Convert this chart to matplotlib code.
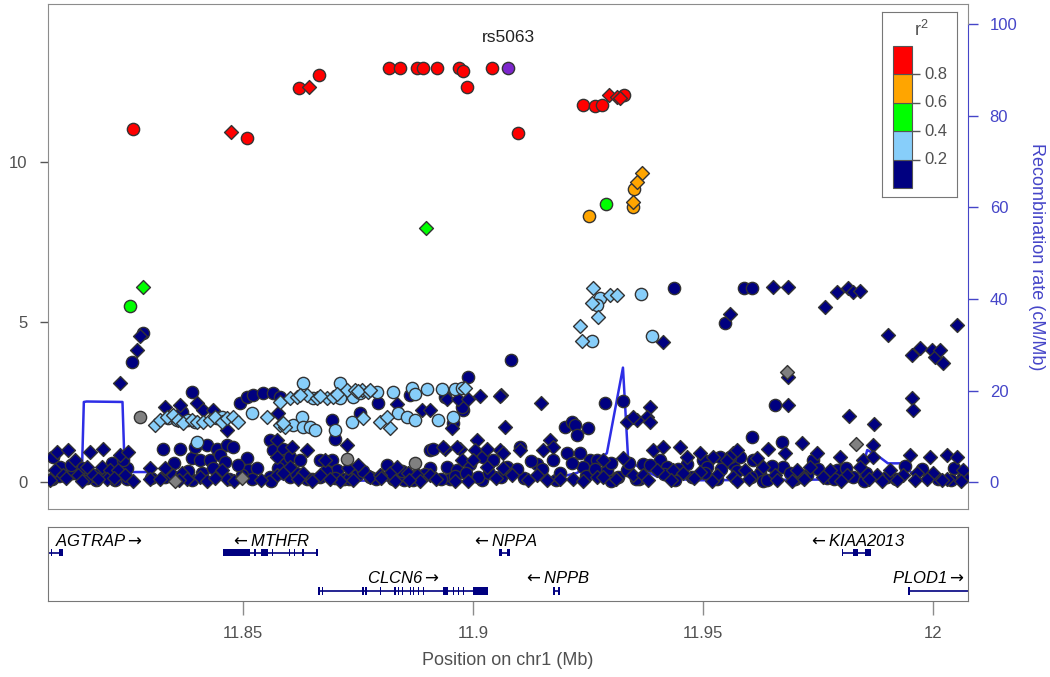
import matplotlib
matplotlib.use("Agg")
import matplotlib.pyplot as plt

plt.rcParams['font.family'] = ['Liberation Sans', 'DejaVu Sans']

# ---------------- data (positions in Mb, -log10 p) ----------------
lead_name = "rs5063"
lead_pos = [11.9076]
lead_logp = [12.94]

red_circ_pos = [11.8261, 11.8509, 11.8622, 11.8665, 11.8817, 11.8841, 11.8878, 11.8891, 11.8922,
                11.8970, 11.8978, 11.8987, 11.9041, 11.9098, 11.9239, 11.9265, 11.9280, 11.9328]
red_circ_logp = [11.03, 10.75, 12.31, 12.72, 12.94, 12.94, 12.94, 12.94, 12.94,
                 12.94, 12.85, 12.34, 12.94, 10.91, 11.78, 11.75, 11.78, 12.09]
red_diam_pos = [11.8474, 11.8644, 11.9296, 11.9313, 11.9320]
red_diam_logp = [10.94, 12.34, 12.09, 12.03, 12.00]

orange_circ_pos = [11.9350, 11.9348, 11.9252]
orange_circ_logp = [9.15, 8.60, 8.31]
orange_diam_pos = [11.9367, 11.9357, 11.9348]
orange_diam_logp = [9.66, 9.38, 8.75]

green_circ_pos = [11.9289, 11.8254]
green_circ_logp = [8.68, 5.50]
green_diam_pos = [11.8898, 11.8283]
green_diam_logp = [7.94, 6.09]

light_circ_pos = [11.9276, 11.9270, 11.9365, 11.9259, 11.9389,
                  11.8337, 11.8357, 11.8381, 11.8396, 11.8444, 11.8455, 11.8400, 11.8520,
                  11.8631, 11.8652, 11.8711, 11.8711, 11.8739, 11.8755, 11.8792, 11.8826,
                  11.8868, 11.8874, 11.8900, 11.8933, 11.8961, 11.8976,
                  11.8609, 11.8629, 11.8631, 11.8646, 11.8657, 11.8700, 11.8737, 11.8837,
                  11.8857, 11.8874, 11.8924, 11.8957]
light_circ_logp = [5.75, 5.53, 5.87, 4.41, 4.56,
                   1.99, 1.94, 1.94, 1.89, 1.99, 2.04, 1.25, 2.15,
                   3.09, 2.63, 3.09, 2.63, 2.66, 2.78, 2.81, 2.81,
                   2.94, 2.75, 2.91, 2.91, 2.91, 2.94,
                   1.78, 2.03, 1.72, 1.72, 1.63, 1.63, 1.88, 2.16,
                   2.03, 1.94, 1.94, 2.03]
light_diam_pos = [11.9261, 11.9259, 11.9272, 11.9298, 11.9313, 11.9233, 11.9237,
                  11.8309, 11.8320, 11.8335, 11.8348, 11.8359, 11.8370, 11.8389, 11.8400,
                  11.8413, 11.8429, 11.8439, 11.8455, 11.8466, 11.8479, 11.8489, 11.8552,
                  11.8581, 11.8602, 11.8618, 11.8639, 11.8661, 11.8683, 11.8696, 11.8726,
                  11.8744, 11.8759, 11.8772, 11.8983, 11.8624, 11.8668, 11.8705, 11.8750, 11.8776,
                  11.8581, 11.8592, 11.8587, 11.8761, 11.8798, 11.8820, 11.8813]
light_diam_logp = [6.06, 5.59, 5.16, 5.84, 5.84, 4.88, 4.41,
                   1.78, 1.94, 2.03, 2.09, 1.94, 1.84, 1.94, 1.88,
                   1.88, 1.94, 2.03, 1.88, 2.00, 2.03, 1.88, 2.04,
                   2.50, 2.63, 2.66, 2.72, 2.63, 2.63, 2.66, 2.88,
                   2.88, 2.88, 2.81, 2.94, 2.72, 2.69, 2.75, 2.84, 2.88,
                   1.78, 1.72, 1.84, 2.00, 1.88, 1.69, 2.03]

grey_circ_pos = [11.8276, 11.8726, 11.8874]
grey_circ_logp = [2.03, 0.72, 0.59]
grey_diam_pos = [11.9683, 11.9833, 11.8352, 11.8498]
grey_diam_logp = [3.44, 1.19, 0.02, 0.13]

navy_circ_pos = [11.9437, 11.9589, 11.9607, 11.9548, 11.9083, 11.8989, 11.8283, 11.8259, 11.8389,
                 11.9657, 11.9287, 11.9326, 11.8794, 11.8939, 11.8494, 11.8509, 11.8522, 11.8544,
                 11.8566, 11.8581, 11.8368, 11.8694, 11.8700, 11.8755, 11.8863, 11.8979, 11.8907,
                 11.8957, 11.8976, 11.9607, 11.9672,
                 11.9200, 11.9215, 11.9222, 11.9226, 11.9250,
                 11.8087, 11.8102, 11.8131, 11.8150, 11.8222, 11.8248, 11.8248, 11.8326, 11.8363,
                 11.8389, 11.8396, 11.8422, 11.8444, 11.8466, 11.8479, 11.8509, 11.8511, 11.8531,
                 11.8498, 11.8559, 11.8566, 11.8559, 11.8407, 11.8429, 11.8450,
                 11.8587, 11.8592, 11.8602, 11.8624, 11.8668, 11.8694, 11.8705, 11.8668, 11.8748,
                 11.8776, 11.8813, 11.8879, 11.8907, 11.8913, 11.8944, 11.8966, 11.8994, 11.9022,
                 11.9044, 11.9074, 11.8602,
                 11.9233, 11.9205, 11.9174, 11.9139, 11.9102, 11.9255, 11.9270, 11.9239, 11.9292,
                 11.9315, 11.9335, 11.9370, 11.9407, 11.9422, 11.9466, 11.9500, 11.9509, 11.9537,
                 11.9566,
                 11.9581, 11.9609, 11.9559, 11.9624, 11.9674, 11.9739, 11.9792, 11.9826, 11.9726,
                 11.9631,
                 11.8085, 11.8180, 11.8300, 11.8390, 11.8470, 11.8560, 11.8640, 11.8720, 11.8850,
                 11.8950, 11.9020, 11.9110, 11.9180, 11.9300, 11.9360, 11.9440, 11.9530, 11.9640,
                 11.9700, 11.9770, 11.9850, 11.9920, 12.0040,
                 11.8100, 11.8125, 11.8160, 11.8190, 11.8215, 11.8240, 11.8330, 11.8350, 11.8380,
                 11.8410, 11.8435, 11.8460, 11.8490, 11.8520, 11.8575, 11.8615, 11.8650, 11.8680,
                 11.8700, 11.8730, 11.8760, 11.8790, 11.8825, 11.8845, 11.8870, 11.8895, 11.8930,
                 11.8960, 11.8985, 11.9010, 11.9035, 11.9060, 11.9095, 11.9125, 11.9150, 11.9190,
                 11.9215, 11.9245, 11.9265, 11.9300, 11.9340, 11.9355, 11.9385, 11.9415, 11.9445,
                 11.9475, 11.9505, 11.9540, 11.9575, 11.9605, 11.9650, 11.9690, 11.9715, 11.9750,
                 11.9785, 11.9810, 11.9855, 11.9900, 11.9940, 11.9975, 12.0010, 12.0045, 12.0065]
navy_circ_logp = [6.06, 6.06, 6.06, 4.97, 3.81, 3.28, 4.66, 3.75, 2.81,
                  2.41, 2.48, 2.54, 2.47, 2.66, 2.46, 2.67, 2.72, 2.78,
                  2.78, 2.66, 2.19, 1.94, 1.36, 2.15, 2.72, 2.25, 1.00,
                  1.84, 2.34, 1.42, 1.26,
                  1.73, 1.89, 1.78, 1.47, 1.68,
                  0.79, 0.48, 0.27, 0.43, 0.06, 0.43, 0.11, 1.05, 1.05,
                  0.74, 1.10, 1.16, 1.05, 1.16, 1.10, 0.74, 0.38, 0.43,
                  0.22, 1.31, 1.00, 0.17, 0.69, 0.69, 0.84,
                  1.05, 0.69, 0.79, 0.69, 0.69, 0.69, 0.38, 0.17, 0.22,
                  0.17, 0.53, 0.22, 0.43, 1.05, 0.48, 0.38, 0.58, 0.79,
                  0.69, 0.48, 0.17,
                  0.90, 0.90, 0.69, 0.58, 1.10, 0.69, 0.69, 0.48, 0.38,
                  0.17, 0.38, 0.58, 0.69, 0.48, 0.58, 0.69, 0.48, 0.79,
                  0.58,
                  0.79, 0.69, 0.79, 0.27, 0.48, 0.69, 0.38, 0.17, 0.22,
                  0.02,
                  0.10, 0.08, 0.12, 0.06, 0.10, 0.05, 0.09, 0.11, 0.07,
                  0.10, 0.06, 0.12, 0.08, 0.05, 0.10, 0.07, 0.11, 0.06,
                  0.09, 0.12, 0.05, 0.10, 0.08,
                  0.20, 0.55, 0.12, 0.30, 0.60, 0.70, 0.15, 0.60, 0.35,
                  0.30, 0.45, 0.62, 0.55, 0.10, 0.45, 0.30, 0.10, 0.35,
                  0.12, 0.10, 0.35, 0.10, 0.10, 0.35, 0.08, 0.25, 0.10,
                  0.20, 0.30, 0.15, 0.30, 0.15, 0.40, 0.65, 0.40, 0.30,
                  0.60, 0.20, 0.40, 0.60, 0.60, 0.10, 0.55, 0.25, 0.40,
                  0.15, 0.30, 0.40, 0.35, 0.15, 0.50, 0.30, 0.15, 0.40,
                  0.10, 0.45, 0.30, 0.15, 0.50, 0.40, 0.10, 0.45, 0.15]

navy_diam_pos = [11.9652, 11.9685, 11.9559, 11.9765, 11.9792, 11.9815, 11.9826, 11.9842, 11.9902,
                 12.0052, 11.9955, 11.9972, 11.9998, 12.0004, 12.0022, 12.0015, 11.9685, 11.9685,
                 11.9817, 11.9872, 11.9954, 11.9957, 11.9148, 11.9061, 11.9016, 11.9070, 11.9413,
                 11.8276, 11.8270, 11.8233, 11.9385, 11.9379, 11.9335, 11.9357, 11.9348, 11.9385,
                 11.8835, 11.9059, 11.8331, 11.8363, 11.8400, 11.8413, 11.8435, 11.8466,
                 11.8576, 11.8726, 11.8889, 11.8907, 11.8944, 11.8968, 11.8989, 11.8955, 11.9009,
                 11.8939, 11.8972, 11.9005,
                 11.8096, 11.8120, 11.8168, 11.8196, 11.8233, 11.8250, 11.8135, 11.8161, 11.8194,
                 11.8211, 11.8229, 11.8091, 11.8109, 11.8142, 11.8174, 11.8205, 11.8244, 11.8298,
                 11.8298, 11.8331, 11.8348, 11.8368, 11.8379, 11.8407, 11.8422, 11.8455, 11.8466,
                 11.8574, 11.8574, 11.8602, 11.8607, 11.8639, 11.8574, 11.8587, 11.8631, 11.8668,
                 11.8711, 11.8729, 11.8750, 11.8776, 11.8820, 11.8835, 11.8859, 11.8879, 11.8907,
                 11.8935, 11.8966, 11.8976, 11.9000, 11.9031, 11.9066, 11.9031, 11.9059, 11.8961,
                 11.8885, 11.8798, 11.8679,
                 11.9326, 11.9283, 11.9168, 11.9174, 11.9152, 11.9102, 11.9066, 11.9085, 11.9139,
                 11.9161, 11.9218, 11.9270, 11.9283, 11.9348, 11.9392, 11.9413, 11.9450, 11.9466,
                 11.9494, 11.9522, 11.9552, 11.9566, 11.9400, 11.9370, 11.9435, 11.9457, 11.9494,
                 11.9531, 11.9566,
                 11.9870, 11.9642, 11.9716, 11.9679, 11.9748, 11.9798, 11.9848, 11.9870, 11.9950,
                 11.9994, 12.0031, 12.0052, 11.9574, 11.9618, 11.9592, 11.9631, 11.9657, 11.9705,
                 11.9733, 11.9776, 11.9813, 11.9842, 11.9879, 11.9907, 11.9935, 11.9966, 12.0000,
                 12.0031, 12.0066, 11.9574, 11.9694, 11.9761, 11.9889, 11.9922, 11.9987,
                 11.8080, 11.8115, 11.8150, 11.8185, 11.8220, 11.8260, 11.8320, 11.8360, 11.8440,
                 11.8480, 11.8540, 11.8620, 11.8650, 11.8690, 11.8740, 11.8800, 11.8830, 11.8860,
                 11.8920, 11.8990, 11.9050, 11.9120, 11.9190, 11.9240, 11.9310, 11.9380, 11.9430,
                 11.9480, 11.9520, 11.9600, 11.9660, 11.9720, 11.9800, 11.9860, 11.9960, 12.0020,
                 12.0060]
navy_diam_logp = [6.09, 6.09, 5.25, 5.47, 5.94, 6.06, 5.94, 5.97, 4.59,
                  4.91, 3.97, 4.19, 4.13, 3.91, 3.72, 4.13, 3.28, 2.41,
                  2.06, 1.81, 2.63, 2.25, 2.47, 2.72, 2.69, 1.72, 4.38,
                  4.56, 4.13, 3.09, 2.35, 2.04, 1.89, 1.94, 2.04, 1.89,
                  2.44, 2.69, 2.35, 2.41, 2.46, 2.25, 2.25, 1.63,
                  2.16, 1.16, 2.25, 2.25, 2.61, 2.61, 2.61, 1.68, 1.31,
                  1.05, 1.05, 1.00,
                  0.95, 1.00, 0.95, 1.05, 0.84, 0.95, 0.69, 0.48, 0.48,
                  0.38, 0.38, 0.38, 0.22, 0.22, 0.22, 0.11, 0.22, 0.43,
                  0.11, 0.43, 0.22, 0.27, 0.11, 0.17, 0.02, 0.38, 0.11,
                  1.31, 0.79, 0.48, 1.10, 1.00, 0.22, 0.27, 0.27, 0.22,
                  0.02, 0.43, 0.53, 0.17, 0.27, 0.48, 0.27, 0.22, 0.22,
                  1.10, 1.10, 0.69, 0.69, 0.48, 0.43, 1.05, 1.00, 0.02,
                  0.02, 0.22, 0.69,
                  0.74, 0.69, 1.31, 1.10, 1.00, 1.00, 0.90, 0.22, 0.22,
                  0.06, 0.11, 0.17, 0.17, 0.22, 1.00, 1.10, 1.10, 0.79,
                  0.90, 0.79, 0.69, 0.90, 0.38, 0.22, 0.38, 0.27, 0.32,
                  0.22, 0.17,
                  1.16, 1.02, 1.21, 0.90, 0.90, 0.79, 0.69, 0.79, 0.84,
                  0.79, 0.84, 0.79, 1.00, 0.74, 0.38, 0.48, 0.22, 0.38,
                  0.48, 0.38, 0.22, 0.48, 0.22, 0.38, 0.22, 0.27, 0.27,
                  0.11, 0.38, 0.02, 0.02, 0.17, 0.02, 0.06, 0.11,
                  0.06, 0.12, 0.05, 0.09, 0.14, 0.04, 0.10, 0.07, 0.12,
                  0.05, 0.08, 0.11, 0.04, 0.09, 0.06, 0.13, 0.05, 0.08,
                  0.10, 0.04, 0.12, 0.07, 0.09, 0.05, 0.11, 0.06, 0.08,
                  0.12, 0.05, 0.09, 0.07, 0.11, 0.04, 0.10, 0.06, 0.08,
                  0.05]

# recombination rate (cM/Mb)
recomb_pos = [11.8075, 11.8150, 11.8154, 11.8160, 11.8238, 11.8243, 11.8290, 11.8310, 11.8480,
              11.8530, 11.8560, 11.8600, 11.8700, 11.8900, 11.9040, 11.9091, 11.9107, 11.9189,
              11.9226, 11.9291, 11.9326, 11.9337, 11.9348, 11.9400, 11.9478, 11.9840, 11.9857,
              11.9878, 11.9902, 11.9928, 11.9954, 12.0009, 12.0011, 12.0075]
recomb_rate = [2.5, 2.8, 17.5, 17.6, 17.5, 2.2, 2.2, 1.2, 0.5,
               0.9, 1.0, 0.5, 0.3, 0.4, 1.5, 3.7, 1.0, 1.1,
               2.0, 6.3, 25.0, 5.5, 4.0, 1.2, 0.4, 0.6, 7.0,
               5.9, 4.1, 4.1, 2.0, 1.5, 0.0, 0.0]

# r2 legend
r2_bins = [0.0, 0.2, 0.4, 0.6, 0.8]
r2_labels = ["0.2", "0.4", "0.6", "0.8"]

# genes
gene_names = ["AGTRAP", "MTHFR", "NPPA", "KIAA2013", "CLCN6", "NPPB", "PLOD1"]
gene_start = [11.7961, 11.8457, 11.9057, 11.9802, 11.8663, 11.9174, 11.9946]
gene_end = [11.8108, 11.8662, 11.9081, 11.9866, 11.9033, 11.9189, 12.0356]
gene_strand = ["+", "-", "-", "-", "+", "-", "+"]
gene_row = [0, 0, 0, 0, 1, 1, 1]
gene_exons = [
    [(11.8082, 11.8085), (11.8099, 11.8108)],
    [(11.8457, 11.8516), (11.8525, 11.8528), (11.8540, 11.8555), (11.8562, 11.8565),
     (11.8600, 11.8603), (11.8611, 11.8614), (11.8629, 11.8632), (11.8659, 11.8662)],
    [(11.9057, 11.9063), (11.9074, 11.9081)],
    [(11.9802, 11.9805), (11.9826, 11.9837), (11.9852, 11.9866)],
    [(11.8664, 11.8667), (11.8672, 11.8675), (11.8759, 11.8762), (11.8766, 11.8769),
     (11.8797, 11.8800), (11.8829, 11.8832), (11.8836, 11.8839), (11.8845, 11.8848),
     (11.8862, 11.8865), (11.8869, 11.8872), (11.8880, 11.8883), (11.8891, 11.8894),
     (11.8934, 11.8946), (11.8956, 11.8959), (11.8967, 11.8970), (11.8978, 11.8981),
     (11.9000, 11.9033)],
    [(11.9174, 11.9179), (11.9184, 11.9189)],
    [(11.9946, 11.9949)],
]

# ---------------- styling ----------------
XMIN, XMAX = 11.8075, 12.0075
NAVY = "#000080"
RECOMB = "#2E2EE6"
AXBLUE = "#4545C8"
GREY = "#8c8c8c"
TXT = "#505050"
EDGE = "#333333"

fig = plt.figure(figsize=(10.5, 6.77), dpi=100)
ax = fig.add_axes([47.5 / 1050, 1 - 509 / 677, 920 / 1050, 505 / 677])
ax2 = ax.twinx()
ax.set_zorder(ax2.get_zorder() + 1)
ax.patch.set_visible(False)

ax.set_xlim(XMIN, XMAX)
ax.set_ylim(-0.84, 14.94)
ax2.set_ylim(-0.84 * 6.987, 14.94 * 6.987)

# recombination line
ax2.plot(recomb_pos, recomb_rate, color=RECOMB, lw=1.8, zorder=1)

CS, DS = 78, 50


def draw(pos, logp, marker, color, s):
    if pos:
        ax.scatter(pos, logp, marker=marker, s=s, c=color, edgecolors=EDGE, linewidths=1.0, zorder=3)


draw(navy_circ_pos, navy_circ_logp, "o", NAVY, CS)
draw(navy_diam_pos, navy_diam_logp, "D", NAVY, DS)
draw(grey_circ_pos, grey_circ_logp, "o", "#808080", CS)
draw(grey_diam_pos, grey_diam_logp, "D", "#808080", DS)
draw(light_circ_pos, light_circ_logp, "o", "#87CEFA", CS)
draw(light_diam_pos, light_diam_logp, "D", "#87CEFA", DS)
draw(green_circ_pos, green_circ_logp, "o", "#00FF00", CS)
draw(green_diam_pos, green_diam_logp, "D", "#00FF00", DS)
draw(orange_circ_pos, orange_circ_logp, "o", "#FFA500", CS)
draw(orange_diam_pos, orange_diam_logp, "D", "#FFA500", DS)
draw(red_circ_pos, red_circ_logp, "o", "#FF0000", CS)
draw(red_diam_pos, red_diam_logp, "D", "#FF0000", DS)
draw(lead_pos, lead_logp, "o", "#7D26CD", CS)
ax.text(lead_pos[0], lead_logp[0] + 0.95, lead_name, ha="center", va="center", fontsize=12.5, color="#222222")

# main axes frame / ticks
for sp in ["top", "left", "bottom"]:
    ax.spines[sp].set_color(GREY)
ax.spines["right"].set_visible(False)
ax.plot([1, 1], [0, 0.0535], transform=ax.transAxes, color=GREY, lw=0.8, clip_on=False)
ax.plot([1, 1], [0.96, 1], transform=ax.transAxes, color=GREY, lw=0.8, clip_on=False)
ax.set_xticks([])
ax.set_yticks([0, 5, 10])
ax.tick_params(axis="y", length=5.5, width=1, color="#555555", pad=9, labelsize=12, labelcolor=TXT)

for sp in ["top", "left", "bottom"]:
    ax2.spines[sp].set_visible(False)
ax2.spines["right"].set_color(AXBLUE)
ax2.spines["right"].set_bounds(0, 100)
ax2.set_yticks([0, 20, 40, 60, 80, 100])
ax2.tick_params(axis="y", length=7, width=1, color=AXBLUE, pad=9, labelsize=12, labelcolor=AXBLUE)
ax2.set_ylabel("Recombination rate (cM/Mb)", color=AXBLUE, fontsize=13, rotation=270, labelpad=20)

# r2 legend
leg = fig.add_axes([882 / 1050, 1 - 197 / 677, 75 / 1050, 185 / 677])
leg.set_xlim(0, 1)
leg.set_ylim(-0.063, 1.239)
leg.set_xticks([])
leg.set_yticks([])
for sp in leg.spines.values():
    sp.set_color("#777777")
leg_colors = [NAVY, "#87CEFA", "#00FF00", "#FFA500", "#FF0000"]
leg.bar([0.273] * 5, [0.2] * 5, width=0.253, bottom=r2_bins, color=leg_colors,
        edgecolor="#555555", linewidth=0.8)
leg.hlines([0.2, 0.4, 0.6, 0.8], 0.40, 0.51, color="#555555", lw=1)
for b, lab in zip(r2_bins[1:], r2_labels):
    leg.text(0.56, b, lab, ha="left", va="center", fontsize=12, color=TXT)
leg.text(0.52, 1.11, r"$\mathregular{r^2}$", ha="center", va="center", fontsize=13, color=TXT)

# gene panel
gax = fig.add_axes([47.5 / 1050, 1 - 601 / 677, 920 / 1050, 74 / 677])
gax.set_xlim(XMIN, XMAX)
gax.set_ylim(0, 2)
gax.set_yticks([])
for sp in gax.spines.values():
    sp.set_color("#777777")
row_line = [1.30, 0.27]
row_label = [1.63, 0.63]
for name, s, e, strand, row, exons in zip(gene_names, gene_start, gene_end, gene_strand, gene_row, gene_exons):
    y = row_line[row]
    gax.hlines(y, max(s, XMIN), min(e, XMAX), color=NAVY, lw=1.2)
    for a, b in exons:
        gax.bar((a + b) / 2, 0.19, width=max(b - a, 0.0003), bottom=y - 0.095, color=NAVY, linewidth=0)
    label = name + r"$\rightarrow$" if strand == "+" else r"$\leftarrow$" + name
    if s < XMIN:
        gax.text(XMIN + 0.0017, row_label[row], label, ha="left", va="center", fontsize=12, style="italic")
    elif e > XMAX:
        gax.text(XMAX - 0.0005, row_label[row], label, ha="right", va="center", fontsize=12, style="italic")
    else:
        gax.text((s + e) / 2, row_label[row], label, ha="center", va="center", fontsize=12, style="italic")

gax.set_xticks([11.85, 11.9, 11.95, 12.0])
gax.set_xticklabels(["11.85", "11.9", "11.95", "12"])
gax.tick_params(axis="x", length=10, width=1, color=GREY, pad=8, labelsize=12, labelcolor=TXT)
gax.set_xlabel("Position on chr1 (Mb)", fontsize=13, color=TXT, labelpad=8)

fig.savefig("out.png", dpi=100)
